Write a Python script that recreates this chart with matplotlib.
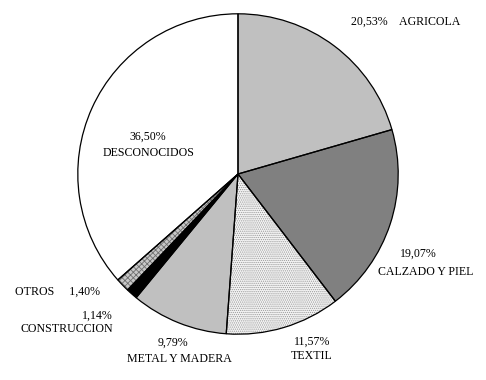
import matplotlib
matplotlib.use("Agg")
import matplotlib.pyplot as plt

categories = ["AGRICOLA", "CALZADO Y PIEL", "TEXTIL", "METAL Y MADERA",
              "CONSTRUCCION", "OTROS", "DESCONOCIDOS"]
values = [20.53, 19.07, 11.57, 9.79, 1.14, 1.40, 36.50]
pct_labels = ["20,53%", "19,07%", "11,57%", "9,79%", "1,14%", "1,40%", "36,50%"]

colors = ["#c0c0c0", "#808080", "#f4f4f4", "#c0c0c0", "#000000", "#c8c8c8", "#ffffff"]
hatches = [None, None, "........", None, None, "xxxxxx", None]
hatch_colors = [None, None, "#9a9a9a", None, None, "#707070", None]

W, H = 486, 380
cx, cy, r = 238, 174, 161
fig = plt.figure(figsize=(W / 100, H / 100), dpi=100)
fig.patch.set_facecolor("white")
ax = fig.add_axes([(cx - r) / W, (H - cy - r) / H, 2 * r / W, 2 * r / H])
ax.axis("off")

plt.rcParams["hatch.linewidth"] = 0.6
wedges, _ = ax.pie(values, colors=colors, startangle=90, counterclock=False,
                   radius=1, center=(0, 0),
                   wedgeprops=dict(linewidth=0))
ov, _ = ax.pie(values, colors=["none"] * len(values), startangle=90,
               counterclock=False, radius=1, center=(0, 0),
               wedgeprops=dict(linewidth=0))
for w, h, hc in zip(ov, hatches, hatch_colors):
    if h:
        w.set_hatch(h)
        w.set_edgecolor(hc)
        w.set_linewidth(0)
    else:
        w.set_visible(False)
for w in wedges:
    w.set_zorder(1)
for w in ov:
    w.set_zorder(2)
ol, _ = ax.pie(values, colors=["none"] * len(values), startangle=90,
               counterclock=False, radius=1, center=(0, 0),
               wedgeprops=dict(edgecolor="black", linewidth=0.9, fill=False))
for w in ol:
    w.set_zorder(3)
ax.set_xlim(-1.005, 1.005)
ax.set_ylim(-1.005, 1.005)

font = dict(family="Liberation Serif", fontsize=8.6, color="black")

def t(x, y, s, ha="center"):
    fig.text(x / W, 1 - y / H, s, ha=ha, va="center", **font)

t(351, 22, pct_labels[0] + "    " + categories[0], ha="left")
t(418, 254, pct_labels[1])
t(426, 272, categories[1])
t(312, 342, pct_labels[2])
t(312, 356, categories[2])
t(173, 343, pct_labels[3])
t(179, 359, categories[3])
t(113, 316, pct_labels[4], ha="right")
t(113, 329, categories[4], ha="right")
t(15, 292, categories[5] + "     " + pct_labels[5], ha="left")
t(148, 137, pct_labels[6])
t(149, 153, categories[6])

fig.savefig("out.png", dpi=100, facecolor="white")
